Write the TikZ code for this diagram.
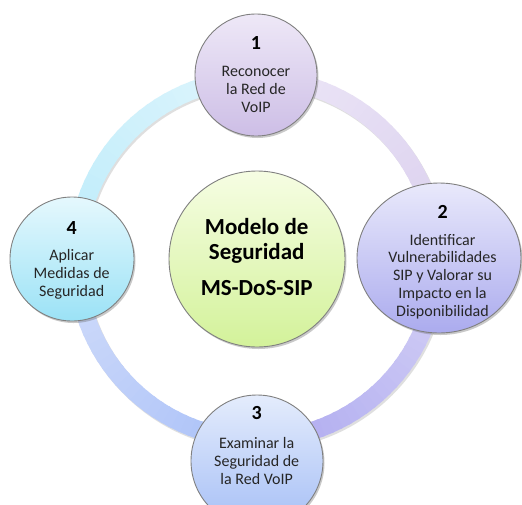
\documentclass[tikz,border=0pt]{standalone}
\usepackage{fontspec}
\setmainfont{Carlito}
\usetikzlibrary{shapes.geometric,shadows}
\definecolor{ringA}{HTML}{EDE7F7}
\definecolor{ringB}{HTML}{DACFEE}
\definecolor{ringC}{HTML}{D6D2F5}
\definecolor{ringD}{HTML}{ADA9F0}
\definecolor{ringE}{HTML}{A9C0F8}
\definecolor{ringF}{HTML}{D2DDFA}
\definecolor{ringG}{HTML}{BDECFB}
\definecolor{ringH}{HTML}{DFF5FC}
\definecolor{oneT}{HTML}{EEE8F7}
\definecolor{oneB}{HTML}{CDBEE6}
\definecolor{twoT}{HTML}{E9E9FB}
\definecolor{twoB}{HTML}{ABABEE}
\definecolor{thrT}{HTML}{E4ECFC}
\definecolor{thrB}{HTML}{A6BFF6}
\definecolor{fouT}{HTML}{E5F8FD}
\definecolor{fouB}{HTML}{9BE2F6}
\definecolor{cenT}{HTML}{F6FDE3}
\definecolor{cenB}{HTML}{D3F29A}
\definecolor{edge}{HTML}{808080}
\tikzset{
  blob/.style={draw=edge, line width=0.9pt, inner sep=0pt,
    drop shadow={shadow xshift=1.5pt, shadow yshift=-2pt, opacity=0.35, fill=black!60}},
  numtxt/.style={font=\fontsize{20}{22}\selectfont\bfseries, inner sep=0pt},
  bodytxt/.style={font=\fontsize{16}{17.8}\selectfont, align=center, inner sep=0pt, text=black!85},
  centxt/.style={font=\fontsize{23}{25}\selectfont\bfseries, align=center, inner sep=0pt}
}
\begin{document}
\begin{tikzpicture}[x=1pt,y=-1pt]
\useasboundingbox (0,0) rectangle (522,504);
\fill[white] (0,0) rectangle (522,504);
% ring shadow
\draw[black!35, opacity=0.35, line width=18pt] (258.5,261) circle [radius=180.5];
% ring segments
\foreach \sa/\ea/\cs/\ce in {90/0/ringA/ringB, 0/-90/ringC/ringD, -90/-180/ringE/ringF, -180/-270/ringG/ringH}{
  \foreach \k in {0,...,29}{
    \pgfmathsetmacro{\aa}{\sa+(\ea-\sa)*\k/30}
    \pgfmathsetmacro{\ab}{\sa+(\ea-\sa)*(\k+1.3)/30}
    \pgfmathsetmacro{\pp}{100*\k/29}
    \colorlet{segc}{\ce!\pp!\cs}
    \draw[segc, line width=18pt] ({257+180.5*cos(\aa)},{259-180.5*sin(\aa)}) arc[start angle=-\aa, end angle=-\ab, radius=180.5];
  }
}
% nodes
\node[blob, circle, minimum size=176pt, top color=cenT, bottom color=cenB] (c) at (257,259) {};
\node[blob, circle, minimum size=122pt, top color=oneT, bottom color=oneB] (n1) at (256,75) {};
\node[blob, ellipse, minimum width=164pt, minimum height=150pt, top color=twoT, bottom color=twoB] (n2) at (439,258) {};
\node[blob, circle, minimum size=132pt, top color=thrT, bottom color=thrB] (n3) at (257,461) {};
\node[blob, circle, minimum size=124pt, top color=fouT, bottom color=fouB] (n4) at (72,259) {};
% texts
\node[centxt] (ct1) at (256.7,241) {Modelo de\\Seguridad};
\node[centxt] (ct2) at (256.7,288) {MS-DoS-SIP};
\node[numtxt] (k1) at (256,42.7) {1};
\node[bodytxt] (t1) at (256,89.3) {Reconocer\\la Red de\\VoIP};
\node[numtxt] (k2) at (442.7,211.7) {2};
\node[bodytxt] (t2) at (442.5,276.5) {Identificar\\Vulnerabilidades\\SIP y Valorar su\\Impacto en la\\Disponibilidad};
\node[numtxt] (k3) at (256.7,413.3) {3};
\node[bodytxt] (t3) at (256.7,461) {Examinar la\\Seguridad de\\la Red VoIP};
\node[numtxt] (k4) at (71.7,227.7) {4};
\node[bodytxt] (t4) at (71.7,274.3) {Aplicar\\Medidas de\\Seguridad};
\end{tikzpicture}
\end{document}
